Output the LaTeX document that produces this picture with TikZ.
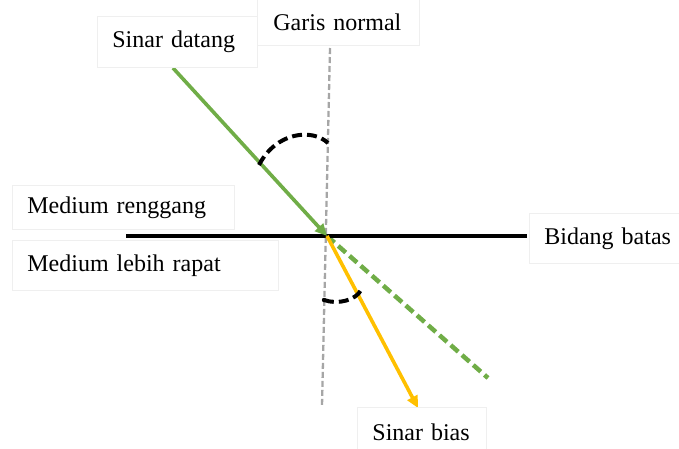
\documentclass[tikz,border=0pt]{standalone}
\usepackage{fontspec}
\setmainfont{Liberation Serif}
\usetikzlibrary{arrows.meta}
\definecolor{raygreen}{HTML}{70AD47}
\definecolor{rayyellow}{HTML}{FFC000}
\definecolor{normalgray}{HTML}{A6A6A6}
\definecolor{boxgray}{HTML}{EFEFEF}
\tikzset{
  lbl/.style={draw=boxgray, fill=white, line width=0.8pt, anchor=north west,
    inner xsep=15pt, inner ysep=0pt, align=left, font=\fontsize{24}{28}\selectfont},
  normalline/.style={draw=normalgray, line width=2.3pt, dash pattern=on 6pt off 3pt},
  interface/.style={draw=black, line width=4pt},
  incident/.style={draw=raygreen, line width=3.6pt, -{Triangle[length=12pt,width=11pt]}},
  extension/.style={draw=raygreen, line width=4.5pt, dash pattern=on 10pt off 5pt},
  refracted/.style={draw=rayyellow, line width=3.6pt, -{Triangle[length=12pt,width=11pt]}},
  anglearc/.style={draw=black, line width=4pt, dash pattern=on 10pt off 5pt}
}
\begin{document}
\begin{tikzpicture}[x=1pt,y=-1pt]
\useasboundingbox (0,0) rectangle (679,448);
% key points
\coordinate (O) at (327,236);
\coordinate (Ntop) at (330,48);
\coordinate (Nbot) at (322,406);
\coordinate (Lleft) at (126,236);
\coordinate (Lright) at (527,236);
\coordinate (Istart) at (173,68);
\coordinate (Eend) at (488,378);
\coordinate (Rend) at (418,408);
\coordinate (A1) at (259,165);
\coordinate (A2) at (328,143);
\coordinate (B1) at (324,300);
\coordinate (B2) at (361,290);
% lines
\draw[normalline] (Ntop) -- (Nbot);
\draw[extension] (O) -- (Eend);
\draw[interface] (Lleft) -- (Lright);
\draw[incident] (Istart) -- (O);
\draw[refracted] (O) -- (Rend);
\draw[anglearc] (A1) .. controls (276,132) and (312,128) .. (A2);
\draw[anglearc] (B1) .. controls (338,305) and (356,300) .. (B2);
\fill (B1) circle (2.2pt);
% labels
\node[lbl, minimum width=160pt, minimum height=51pt, text width=130pt] (sd) at (97,16) {Sinar datang};
\node[lbl, minimum width=160pt, minimum height=47pt, text width=130pt, inner xsep=16pt] (gn) at (257,-2) {Garis normal};
\node[lbl, minimum width=222pt, minimum height=44pt, text width=192pt] (mr) at (12,185) {Medium renggang};
\node[lbl, minimum width=266pt, minimum height=50pt, text width=236pt] (ml) at (12,240) {Medium lebih rapat};
\node[lbl, minimum width=160pt, minimum height=50pt, text width=130pt] (bb) at (529,213) {Bidang batas};
\node[lbl, minimum width=129pt, minimum height=50pt, text width=99pt] (sb) at (357,407) {Sinar bias};
\end{tikzpicture}
\end{document}
